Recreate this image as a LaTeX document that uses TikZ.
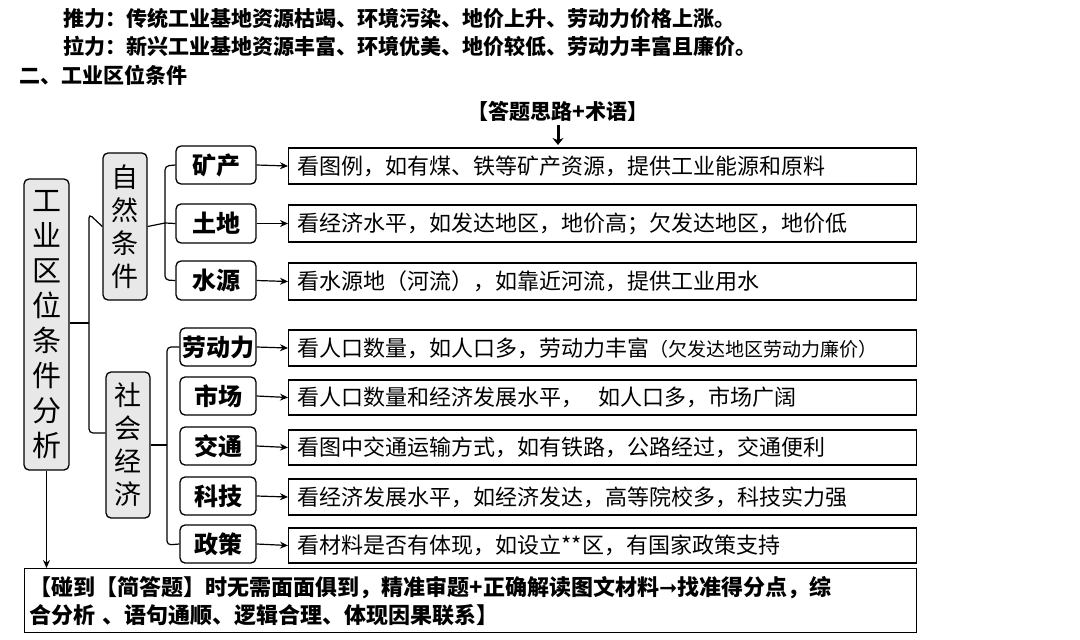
\documentclass[tikz,border=0pt]{standalone}
\usepackage{fontspec}
\usetikzlibrary{arrows.meta}
\setmainfont{Noto Sans CJK SC}
\newfontfamily\djv{DejaVu Sans}
\begin{document}
\begin{tikzpicture}[x=1pt,y=-1pt,
 gbox/.style={draw,line width=1.3pt,rounded corners=5pt,fill=gray!18,align=center,font=\fontsize{27}{33}\selectfont,inner sep=0pt},
 sbox/.style={draw,line width=1.3pt,rounded corners=5pt,font=\fontsize{24}{28}\selectfont\bfseries,inner sep=0pt},
 rbox/.style={draw,line width=1.3pt,font=\fontsize{22}{24}\selectfont,inner sep=0pt,anchor=west,align=left},
 con/.style={line width=1.2pt,rounded corners=4pt},
 arr/.style={line width=1.2pt,-{Stealth[length=8pt,width=7pt]}}]
\useasboundingbox (0,0) rectangle (1080,640);
\node[anchor=west,font=\fontsize{21}{24}\selectfont\bfseries] (t1) at (60,18) {推力：传统工业基地资源枯竭、环境污染、地价上升、劳动力价格上涨。};
\node[anchor=west,font=\fontsize{21}{24}\selectfont\bfseries] (t2) at (60,46) {拉力：新兴工业基地资源丰富、环境优美、地价较低、劳动力丰富且廉价。};
\node[anchor=west,font=\fontsize{21}{24}\selectfont\bfseries] (t3) at (16,75) {二、工业区位条件};
\node[font=\fontsize{21}{24}\selectfont\bfseries] (hd) at (558,111) {【答题思路+术语】};
\draw[line width=3pt,-{Stealth[length=7pt,width=11pt]}] (hd.south) -- (558,145);
\node[gbox,minimum width=45pt,minimum height=291pt,font=\fontsize{29}{35}\selectfont] (m) at (46.5,324.5) {工\\业\\区\\位\\条\\件\\分\\析};
\node[gbox,minimum width=44pt,minimum height=147pt] (n) at (125,226.5) {自\\然\\条\\件};
\node[gbox,minimum width=44pt,minimum height=146pt] (s) at (128,445) {社\\会\\经\\济};
\foreach \nm/\t/\ya/\yb/\xa in {a/矿产/146/184/176,b/土地/204/243/176,c/水源/261/300/176,d/劳动力/328/366/180,e/市场/377/415/180,f/交通/427/465/180,g/科技/477/515/180,h/政策/525/563/180}{
 \node[sbox,minimum width={256pt-\xa pt},minimum height={(\yb-\ya)*1pt}] (\nm) at ({(\xa+256)/2},{(\ya+\yb)/2}) {\t};
}
\foreach \nm/\t/\ya/\yb in {a/看图例，如有煤、铁等矿产资源，提供工业能源和原料/148/184,b/看经济水平，如发达地区，地价高；欠发达地区，地价低/205/242,c/看水源地（河流），如靠近河流，提供工业用水/263/300,d/{看人口数量，如人口多，劳动力丰富{\fontsize{19}{20}\selectfont（欠发达地区劳动力廉价）}}/330/366,e/看人口数量和经济发展水平，\ \ 如人口多，市场广阔/380/415,f/看图中交通运输方式，如有铁路，公路经过，交通便利/430/465,g/看经济发展水平，如经济发达，高等院校多，科技实力强/479/515,h/看材料是否有体现，如设立**区，有国家政策支持/528/563}{
 \node[rbox,minimum height={(\yb-\ya)*1pt},text width=628pt] (r\nm) at (288,{(\ya+\yb)/2}) {\hspace*{9pt}\t};
 \draw[arr] (\nm.east) -- (r\nm.west);
}
\node[draw,line width=1.3pt,anchor=north west,minimum height=64pt,text width=882pt,align=left,inner sep=5pt,font=\fontsize{22}{28}\selectfont\bfseries] (bt) at (24,568) {【碰到【简答题】时无需面面俱到，精准审题+正确解读图文材料{\djv\bfseries ➞}找准得分点，综\\合分析\ 、语句通顺、逻辑合理、体现因果联系】};
\draw[arr] (m.south) -- (m.south |- bt.north);
\draw[con] (m.east |- 0,323) -- (89,323);
\draw[con] (n.west) -- (89,214) -- (89,433) -- (s.west |- 0,433);
\draw[con] (n.east) -- (165,223);
\draw[con] (a.west) -- (165,166) -- (165,280) -- (c.west);
\draw[con] (165,223) -- (b.west);
\draw[con] (s.east |- 0,445) -- (167,445);
\draw[con] (d.west) -- (167,347) -- (167,545) -- (h.west);
\end{tikzpicture}
\end{document}
